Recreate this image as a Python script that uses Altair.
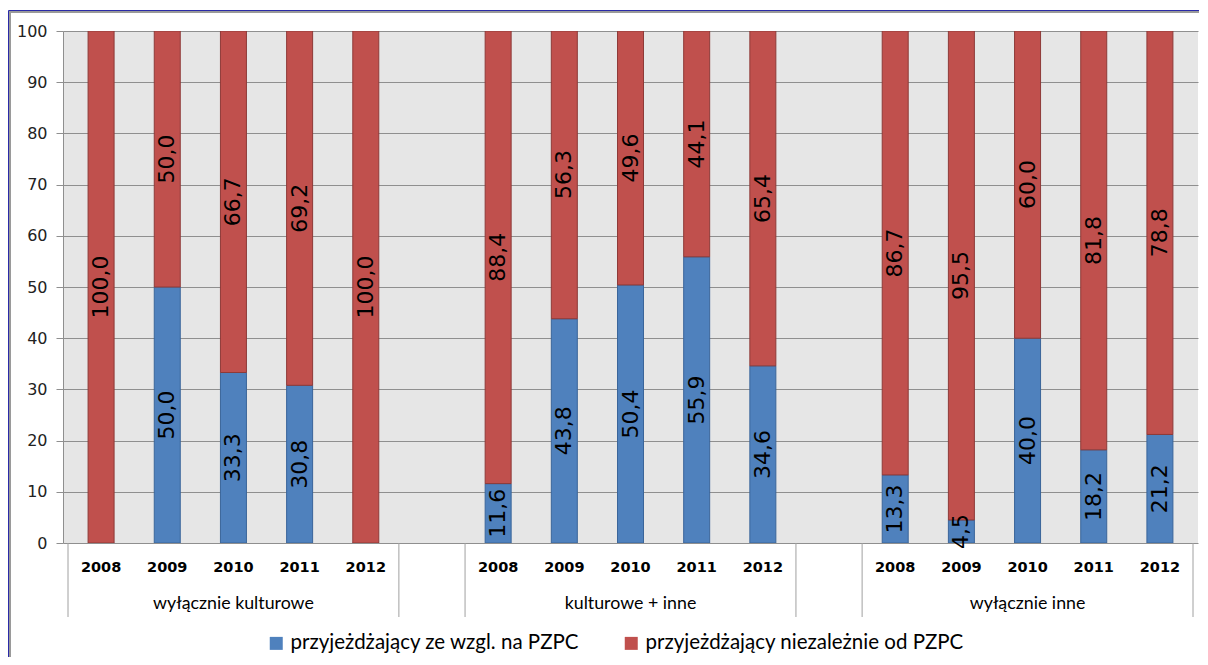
import altair as alt
import pandas as pd

groups = ["wyłącznie kulturowe", "kulturowe + inne", "wyłącznie inne"]
years = ["2008", "2009", "2010", "2011", "2012"]
series = ["przyjeżdżający ze wzgl. na PZPC", "przyjeżdżający niezależnie od PZPC"]

blue_vals = [
    [0.0, 50.0, 33.3, 30.8, 0.0],
    [11.6, 43.8, 50.4, 55.9, 34.6],
    [13.3, 4.5, 40.0, 18.2, 21.2],
]
red_vals = [
    [100.0, 50.0, 66.7, 69.2, 100.0],
    [88.4, 56.3, 49.6, 44.1, 65.4],
    [86.7, 95.5, 60.0, 81.8, 78.8],
]

colors = ["#4F81BD", "#C0504D"]
strokes = ["#3A659A", "#8E3A38"]

W, H = 1135, 512
SLOTS_PER_GROUP = len(years) + 1
N_SLOTS = len(groups) * SLOTS_PER_GROUP - 1

rows = []
years_rows = []
for gi, g in enumerate(groups):
    for yi, yr in enumerate(years):
        slot = gi * SLOTS_PER_GROUP + yi
        b = blue_vals[gi][yi]
        r = red_vals[gi][yi]
        for si, (s, v, lo) in enumerate([(series[0], b, 0.0), (series[1], r, b)]):
            rows.append({
                "series": s, "order": si, "xc": slot + 0.5, "value": v,
                "start": lo, "end": min(lo + v, 100.0), "mid": lo + v / 2,
                "label": f"{v:.1f}".replace(".", ",") if v > 0 else "",
            })
        years_rows.append({"xc": slot + 0.5, "year": yr})
df = pd.DataFrame(rows)
dyears = pd.DataFrame(years_rows)
dgroups = pd.DataFrame({
    "group": groups,
    "xc": [gi * SLOTS_PER_GROUP + len(years) / 2 for gi in range(len(groups))],
})
seps = []
for gi in range(len(groups)):
    seps.append(gi * SLOTS_PER_GROUP)
    seps.append(gi * SLOTS_PER_GROUP + len(years))
dseps = pd.DataFrame({"xs": seps})

xscale = alt.Scale(domain=[0, N_SLOTS], nice=False, zero=False)
yscale = alt.Scale(domain=[0, 100], nice=False)

bars = alt.Chart(df).mark_bar(size=26, strokeWidth=1, clip=True).encode(
    x=alt.X("xc:Q", scale=xscale, axis=None),
    y=alt.Y("start:Q", scale=yscale, axis=alt.Axis(
        values=list(range(0, 101, 10)), title=None, grid=True,
        gridColor="#8f8f8f", gridWidth=1, domainColor="#8f8f8f",
        tickColor="#8f8f8f", tickSize=7, labelFont="DejaVu Sans",
        labelFontSize=16, labelColor="#222222", labelPadding=9)),
    y2="end:Q",
    color=alt.Color("series:N", scale=alt.Scale(domain=series, range=colors),
                    legend=alt.Legend(orient="none", legendX=203, legendY=602,
                                      direction="horizontal", title=None,
                                      symbolType="square", symbolSize=169,
                                      symbolStrokeWidth=0, labelFont="Lato",
                                      labelFontSize=20.5, labelColor="#000000",
                                      labelLimit=0, labelOffset=4,
                                      columnPadding=41)),
    stroke=alt.Stroke("series:N", scale=alt.Scale(domain=series, range=strokes),
                      legend=None),
)

labels = alt.Chart(df[df["label"] != ""]).mark_text(
    angle=270, font="DejaVu Sans", fontSize=22, color="#000000",
    align="center", baseline="middle",
).encode(
    x=alt.X("xc:Q", scale=xscale),
    y=alt.Y("mid:Q", scale=yscale),
    text="label:N",
)

year_text = alt.Chart(dyears).mark_text(
    font="DejaVu Sans", fontSize=14.5, fontWeight="bold", color="#000000",
    baseline="middle",
).encode(x=alt.X("xc:Q", scale=xscale), y=alt.value(H + 25), text="year:N")

group_text = alt.Chart(dgroups).mark_text(
    font="Lato", fontSize=17.8, color="#000000", baseline="middle",
).encode(x=alt.X("xc:Q", scale=xscale), y=alt.value(H + 61), text="group:N")

sep_rules = alt.Chart(dseps).mark_rule(color="#a0a0a0", strokeWidth=1).encode(
    x=alt.X("xs:Q", scale=xscale), y=alt.value(H), y2=alt.value(H + 74),
)

frame_df = pd.DataFrame({"k": [0]})
frame_grey = alt.Chart(frame_df).mark_rect(
    fill=None, stroke="#9a9a9a", strokeWidth=2,
).encode(x=alt.value(-53), x2=alt.value(W + 40), y=alt.value(-19), y2=alt.value(H + 200))
frame_blue = alt.Chart(frame_df).mark_rect(
    fill=None, stroke="#2a2aa8", strokeWidth=1,
).encode(x=alt.value(-54.5), x2=alt.value(W + 40), y=alt.value(-20.5), y2=alt.value(H + 200))

chart = alt.layer(
    bars, labels, year_text, group_text, sep_rules, frame_grey, frame_blue
).properties(
    width=W, height=H,
    autosize=alt.AutoSizeParams(type="none"),
    padding={"left": 55, "top": 23, "right": 1, "bottom": 114},
    background="#ffffff",
).configure_view(fill="#e6e6e6", stroke=None)

chart.save("out.html", embed_options={"renderer": "svg", "actions": False})
